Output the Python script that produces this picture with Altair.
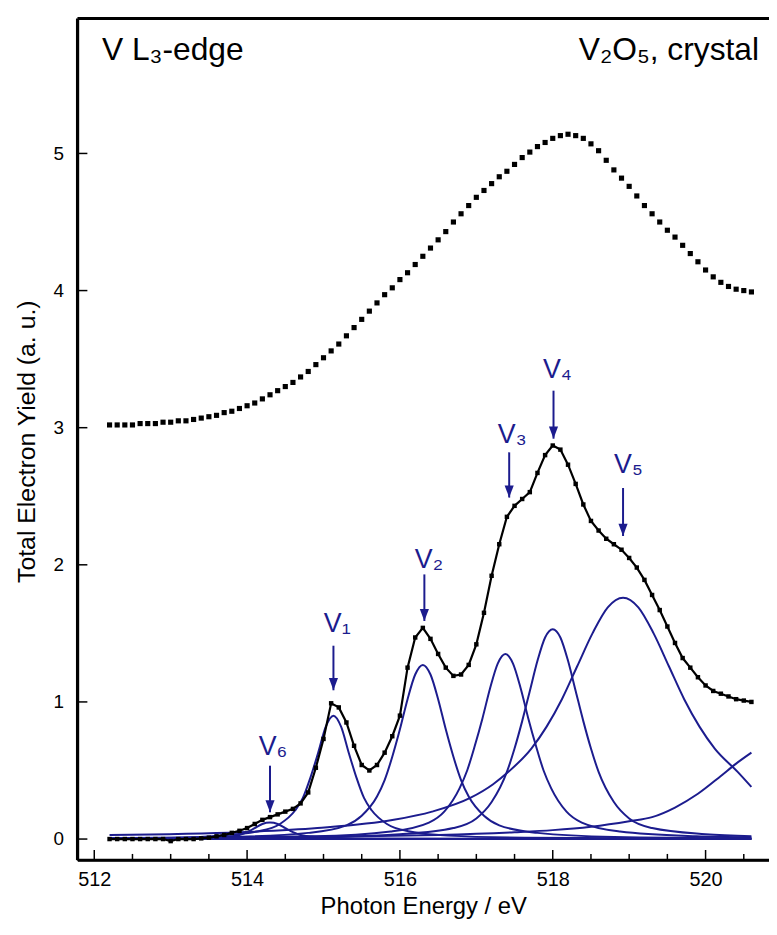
import altair as alt
import pandas as pd

FONT = "Liberation Sans"
BLUE = "#1c1c8e"

# ---------------- measured spectra (0.1 eV grid) ----------------
energy = [
    512.2, 512.3, 512.4, 512.5, 512.6, 512.7, 512.8, 512.9, 513.0, 513.1,
    513.2, 513.3, 513.4, 513.5, 513.6, 513.7, 513.8, 513.9, 514.0, 514.1,
    514.2, 514.3, 514.4, 514.5, 514.6, 514.7, 514.8, 514.9, 515.0, 515.1,
    515.2, 515.3, 515.4, 515.5, 515.6, 515.7, 515.8, 515.9, 516.0, 516.1,
    516.2, 516.3, 516.4, 516.5, 516.6, 516.7, 516.8, 516.9, 517.0, 517.1,
    517.2, 517.3, 517.4, 517.5, 517.6, 517.7, 517.8, 517.9, 518.0, 518.1,
    518.2, 518.3, 518.4, 518.5, 518.6, 518.7, 518.8, 518.9, 519.0, 519.1,
    519.2, 519.3, 519.4, 519.5, 519.6, 519.7, 519.8, 519.9, 520.0, 520.1,
    520.2, 520.3, 520.4, 520.5, 520.6,
]
lower_tey = [
    0.00, 0.00, 0.00, 0.00, 0.00, 0.00, 0.00, 0.00, -0.015, 0.00,
    0.00, 0.00, 0.005, 0.01, 0.02, 0.03, 0.045, 0.06, 0.08, 0.11,
    0.14, 0.16, 0.18, 0.20, 0.22, 0.26, 0.34, 0.52, 0.73, 0.99,
    0.96, 0.85, 0.68, 0.54, 0.50, 0.54, 0.63, 0.75, 0.90, 1.25,
    1.47, 1.54, 1.46, 1.35, 1.25, 1.19, 1.20, 1.27, 1.42, 1.65,
    1.92, 2.15, 2.35, 2.43, 2.48, 2.53, 2.67, 2.80, 2.87, 2.84,
    2.73, 2.59, 2.44, 2.32, 2.25, 2.19, 2.15, 2.11, 2.05, 1.98,
    1.89, 1.78, 1.67, 1.55, 1.43, 1.32, 1.25, 1.18, 1.12, 1.08,
    1.06, 1.04, 1.02, 1.01, 1.00,
]
upper_tey = [
    3.02, 3.02, 3.02, 3.02, 3.03, 3.03, 3.03, 3.04, 3.04, 3.05,
    3.05, 3.06, 3.07, 3.08, 3.09, 3.11, 3.12, 3.14, 3.16, 3.18,
    3.21, 3.24, 3.27, 3.30, 3.33, 3.37, 3.41, 3.46, 3.51, 3.56,
    3.61, 3.67, 3.73, 3.79, 3.85, 3.91, 3.97, 4.02, 4.08, 4.13,
    4.19, 4.25, 4.31, 4.37, 4.43, 4.50, 4.56, 4.62, 4.68, 4.73,
    4.78, 4.83, 4.87, 4.92, 4.97, 5.01, 5.05, 5.08, 5.11, 5.13,
    5.14, 5.13, 5.11, 5.07, 5.02, 4.95, 4.88, 4.82, 4.76, 4.69,
    4.62, 4.56, 4.50, 4.44, 4.39, 4.33, 4.27, 4.21, 4.15, 4.10,
    4.06, 4.03, 4.01, 4.00, 3.99,
]

# ---------------- fitted components ----------------
v6_energy = [512.2, 513.6, 513.9, 514.0, 514.1, 514.2, 514.3, 514.4, 514.5, 514.6, 514.7, 514.9, 515.2, 515.6, 520.6]
v6_value = [0.0, 0.01, 0.03, 0.05, 0.08, 0.11, 0.12, 0.11, 0.08, 0.05, 0.03, 0.015, 0.008, 0.004, 0.0]

v1_energy = [512.2, 513.0, 513.63, 514.13, 514.43, 514.63, 514.73, 514.83, 514.93, 515.03, 515.13,
             515.23, 515.33, 515.43, 515.53, 515.63, 515.83, 516.13, 516.63, 517.63, 520.6]
v1_value = [0.003, 0.008, 0.025, 0.055, 0.11, 0.21, 0.30, 0.45, 0.63, 0.82, 0.90,
            0.82, 0.63, 0.45, 0.30, 0.21, 0.11, 0.055, 0.025, 0.01, 0.002]

v2_energy = [512.2, 513.8, 514.8, 515.3, 515.5, 515.7, 515.8, 515.9, 516.0, 516.1, 516.2, 516.3,
             516.4, 516.5, 516.6, 516.7, 516.8, 516.9, 517.1, 517.3, 517.8, 518.8, 520.6]
v2_value = [0.004, 0.015, 0.045, 0.10, 0.17, 0.31, 0.43, 0.60, 0.80, 1.02, 1.20, 1.27,
            1.20, 1.02, 0.80, 0.60, 0.43, 0.31, 0.17, 0.10, 0.045, 0.015, 0.005]

v3_energy = [512.2, 514.88, 515.88, 516.38, 516.58, 516.78, 516.88, 516.98, 517.08, 517.18, 517.28, 517.38,
             517.48, 517.58, 517.68, 517.78, 517.88, 517.98, 518.18, 518.38, 518.88, 519.88, 520.6]
v3_value = [0.006, 0.02, 0.055, 0.12, 0.20, 0.37, 0.50, 0.68, 0.88, 1.10, 1.28, 1.35,
            1.28, 1.10, 0.88, 0.68, 0.50, 0.37, 0.20, 0.12, 0.055, 0.02, 0.012]

v4_energy = [512.2, 515.0, 516.0, 516.7, 517.0, 517.2, 517.4, 517.5, 517.6, 517.7, 517.8, 517.9, 518.0,
             518.1, 518.2, 518.3, 518.4, 518.5, 518.6, 518.8, 519.0, 519.3, 520.0, 520.6]
v4_value = [0.006, 0.015, 0.035, 0.08, 0.15, 0.27, 0.49, 0.66, 0.86, 1.08, 1.30, 1.47, 1.53,
            1.47, 1.30, 1.08, 0.86, 0.66, 0.49, 0.27, 0.15, 0.08, 0.035, 0.02]

v5_energy = [512.2, 513.92, 514.92, 515.92, 516.42, 516.92, 517.22, 517.42, 517.72, 517.92, 518.12, 518.32,
             518.52, 518.72, 518.92, 519.12, 519.32, 519.52, 519.72, 519.92, 520.12, 520.42, 520.6]
v5_value = [0.03, 0.05, 0.08, 0.14, 0.20, 0.30, 0.40, 0.49, 0.66, 0.82, 1.02, 1.26,
            1.50, 1.69, 1.76, 1.69, 1.50, 1.26, 1.02, 0.82, 0.66, 0.49, 0.38]

v7_energy = [512.2, 514.0, 515.5, 516.5, 517.5, 518.0, 518.5, 519.0, 519.3, 519.6, 519.9, 520.2, 520.4, 520.6]
v7_value = [0.005, 0.01, 0.02, 0.03, 0.05, 0.065, 0.09, 0.13, 0.16, 0.23, 0.33, 0.46, 0.55, 0.63]

base_energy = [512.2, 520.6]
base_value = [0.0, 0.0]

# ---------------- peak markers ----------------
peak_labels = ["V\u2081", "V\u2082", "V\u2083", "V\u2084", "V\u2085", "V\u2086"]
arrow_energy = [515.13, 516.32, 517.43, 518.01, 518.92, 514.30]
arrow_top = [1.41, 1.93, 2.82, 3.27, 2.56, 0.535]
arrow_tip = [1.085, 1.59, 2.49, 2.92, 2.21, 0.195]
label_energy = [515.18, 516.38, 517.47, 518.06, 518.99, 514.34]
label_value = [1.51, 1.98, 2.89, 3.36, 2.67, 0.615]

corner_left = "V L\u2083-edge"
corner_right = "V\u2082O\u2085, crystal"
corner_left_pos = (512.10, 5.68)
corner_right_pos = (520.70, 5.68)

x_major = [512, 514, 516, 518, 520]
x_minor = [512.5, 513, 513.5, 514.5, 515, 515.5, 516.5, 517, 517.5, 518.5, 519, 519.5, 520.5]
y_major = [0, 1, 2, 3, 4, 5]

# ---------------- tables ----------------
comp_frames = []
for name, xs, ys in [("V6", v6_energy, v6_value), ("V1", v1_energy, v1_value),
                     ("V2", v2_energy, v2_value), ("V3", v3_energy, v3_value),
                     ("V4", v4_energy, v4_value), ("V5", v5_energy, v5_value),
                     ("V7", v7_energy, v7_value), ("base", base_energy, base_value)]:
    comp_frames.append(pd.DataFrame({"energy": xs, "value": ys, "comp": name}))
comps = pd.concat(comp_frames, ignore_index=True)

lower = pd.DataFrame({"energy": energy, "value": lower_tey})
upper = pd.DataFrame({"energy": energy, "value": upper_tey})
arrows = pd.DataFrame({"energy": arrow_energy, "value": arrow_top, "tip": arrow_tip})
labels = pd.DataFrame({"energy": label_energy, "value": label_value, "label": peak_labels})
cl = pd.DataFrame({"energy": [corner_left_pos[0]], "value": [corner_left_pos[1]], "label": [corner_left]})
cr = pd.DataFrame({"energy": [corner_right_pos[0]], "value": [corner_right_pos[1]], "label": [corner_right]})
xmaj = pd.DataFrame({"energy": x_major})
xmin = pd.DataFrame({"energy": x_minor})
ymaj = pd.DataFrame({"value": y_major})
frame = pd.DataFrame({"k": [0]})

W, H = 697, 848

x_scale = alt.Scale(domain=[511.78, 520.83], nice=False, zero=False)
y_scale = alt.Scale(domain=[-0.152, 5.984], nice=False, zero=False)

x_axis = alt.Axis(values=x_major, format="d", ticks=False, grid=False,
                  labelFont=FONT, labelFontSize=20, labelColor="black", labelPadding=10,
                  domainColor="black", domainWidth=2.5,
                  title="Photon Energy / eV", titleFont=FONT, titleFontSize=24,
                  titleFontWeight="normal", titleColor="black",
                  titleY=54, titleBaseline="alphabetic")
y_axis = alt.Axis(values=y_major, format="d", ticks=False, grid=False,
                  labelFont=FONT, labelFontSize=19, labelColor="black", labelPadding=14,
                  domainColor="black", domainWidth=2.5,
                  title="Total Electron Yield (a. u.)", titleFont=FONT, titleFontSize=25,
                  titleFontWeight="normal", titleColor="black",
                  titleX=-43, titleY=426, titleBaseline="alphabetic")

X = alt.X("energy:Q", scale=x_scale, axis=x_axis)
Y = alt.Y("value:Q", scale=y_scale, axis=y_axis)

comp_layer = alt.Chart(comps).mark_line(color=BLUE, strokeWidth=2, interpolate="monotone").encode(
    x=X, y=Y, detail="comp:N", order="energy:Q")

lower_line = alt.Chart(lower).mark_line(color="black", strokeWidth=2.2).encode(
    x="energy:Q", y="value:Q")
lower_pts = alt.Chart(lower).mark_square(color="black", size=20, opacity=1).encode(
    x="energy:Q", y="value:Q")
upper_pts = alt.Chart(upper).mark_square(color="black", size=27, opacity=1).encode(
    x="energy:Q", y="value:Q")

arrow_shaft = alt.Chart(arrows).mark_rule(color=BLUE, strokeWidth=2).encode(
    x="energy:Q", y="value:Q", y2="tip:Q")
arrow_head = alt.Chart(arrows).mark_point(shape="M-0.75,-2L0.75,-2L0,0Z", size=150,
                                          filled=True, color=BLUE, opacity=1).encode(
    x="energy:Q", y=alt.Y("tip:Q"))
peak_text = alt.Chart(labels).mark_text(font=FONT, fontSize=27, color=BLUE, align="center",
                                        baseline="alphabetic").encode(
    x="energy:Q", y="value:Q", text="label:N")

left_text = alt.Chart(cl).mark_text(font=FONT, fontSize=32, color="black", align="left",
                                    baseline="alphabetic").encode(
    x="energy:Q", y="value:Q", text="label:N")
right_text = alt.Chart(cr).mark_text(font=FONT, fontSize=32, color="black", align="right",
                                     baseline="alphabetic").encode(
    x="energy:Q", y="value:Q", text="label:N")

xmaj_ticks = alt.Chart(xmaj).mark_rule(color="black", strokeWidth=1.5).encode(
    x="energy:Q", y=alt.value(H), y2=alt.value(H - 10))
xmin_ticks = alt.Chart(xmin).mark_rule(color="black", strokeWidth=1.5).encode(
    x="energy:Q", y=alt.value(H), y2=alt.value(H - 6))
y_ticks = alt.Chart(ymaj).mark_rule(color="black", strokeWidth=1.5).encode(
    y="value:Q", x=alt.value(0), x2=alt.value(10))

# plot frame: left, top and bottom edges (right edge is cut off in the original)
frame_left = alt.Chart(frame).mark_rule(color="black", strokeWidth=3).encode(
    x=alt.value(0), y=alt.value(0), y2=alt.value(H))
frame_top = alt.Chart(frame).mark_rule(color="black", strokeWidth=3).encode(
    x=alt.value(0), x2=alt.value(W), y=alt.value(0))
frame_bottom = alt.Chart(frame).mark_rule(color="black", strokeWidth=2.5).encode(
    x=alt.value(0), x2=alt.value(W), y=alt.value(H))

chart = alt.layer(comp_layer, lower_line, lower_pts, upper_pts, arrow_shaft, arrow_head,
                  peak_text, left_text, right_text, xmaj_ticks, xmin_ticks, y_ticks,
                  frame_left, frame_top, frame_bottom).properties(
    width=W, height=H,
    padding={"left": 70, "top": 7, "right": 0, "bottom": 60},
    autosize=alt.AutoSizeParams(type="none"),
).configure_view(stroke="transparent")

chart.save("out.html", embed_options={"renderer": "svg", "actions": False})
